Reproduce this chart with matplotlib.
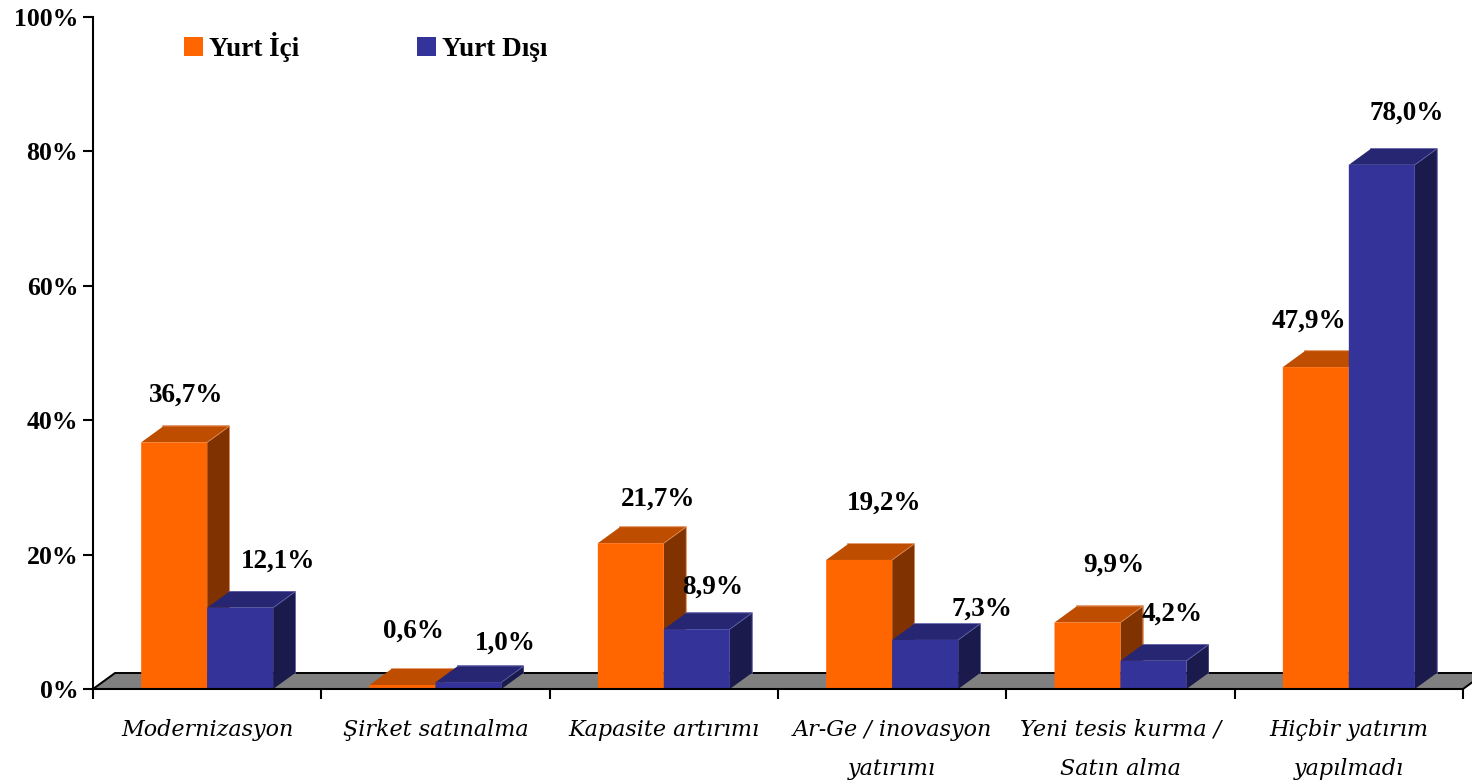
"""Yurt içi / yurt dışı yatırım türleri, pseudo-3D bars on a grey floor."""

import matplotlib

matplotlib.use("Agg")
import matplotlib.pyplot as plt
from matplotlib.patches import Patch

categories = [
    "Modernizasyon",
    "Şirket satınalma",
    "Kapasite artırımı",
    "Ar-Ge / inovasyon\nyatırımı",
    "Yeni tesis kurma /\nSatın alma",
    "Hiçbir yatırım\nyapılmadı",
]
yurt_ici = [36.7, 0.6, 21.7, 19.2, 9.9, 47.9]
yurt_disi = [12.1, 1.0, 8.9, 7.3, 4.2, 78.0]
y_ticks = [0, 20, 40, 60, 80, 100]

# label offsets from the bar's top centre, in pixels (placed by hand in the original)
ici_offsets = [(12, 47), (11, 54), (27, 44), (25, 57), (26, 57), (-7, 46)]
disi_offsets = [(38, 47), (37, 39), (16, 42), (57, 31), (19, 47), (25, 52)]

ORANGE = ("#FF6600", "#BF4D00", "#803300", "#E08A55")  # front, top, side, edge
BLUE = ("#333399", "#262673", "#1A1A4D", "#6060A8")
SERIF = "Liberation Serif"

W, H = 1472, 783
bar_w = 0.289
depth_x = 22 / 228.33  # in category widths
depth_y = 16 / 6.72  # in percent


def draw_bar(ax, x, h, colors, z):
    front, top, side, edge = colors
    # thin highlight along the back edges of the box, covered by the faces after it
    ax.plot([x + depth_x, x + bar_w + depth_x, x + bar_w + depth_x],
            [h + depth_y, h + depth_y, depth_y], color=edge, lw=1.2,
            clip_on=False, zorder=z)
    ax.fill([x, x + bar_w, x + bar_w + depth_x, x + depth_x],
            [h, h, h + depth_y, h + depth_y], color=top, lw=0, clip_on=False, zorder=z)
    ax.fill([x + bar_w, x + bar_w + depth_x, x + bar_w + depth_x, x + bar_w],
            [0, depth_y, h + depth_y, h], color=side, lw=0, clip_on=False, zorder=z)
    ax.plot([x + bar_w, x + bar_w + depth_x], [h, h + depth_y],
            color=edge, lw=0.6, clip_on=False, zorder=z)
    ax.bar(x, h, bar_w, align="edge", color=front, lw=0, snap=False, zorder=z)


def main() -> None:
    fig = plt.figure(figsize=(W / 100, H / 100), dpi=100)
    ax = fig.add_axes([93 / W, 1 - 689 / H, (1463 - 93) / W, (689 - 17) / H])
    ax.set_xlim(-0.5, 5.5)
    ax.set_ylim(0, 100)

    # floor
    ax.fill([-0.5, -0.5 + depth_x, 5.5 + depth_x, 5.5],
            [0, depth_y, depth_y, 0],
            facecolor="#808080", edgecolor="black", lw=1.4, clip_on=False, zorder=0.5)

    for i in range(len(categories)):
        draw_bar(ax, i - bar_w, yurt_ici[i], ORANGE, 1)
        draw_bar(ax, i, yurt_disi[i], BLUE, 1.5)

    for i in range(len(categories)):
        for x, v, off in ((i - bar_w / 2, yurt_ici[i], ici_offsets[i]),
                          (i + bar_w / 2, yurt_disi[i], disi_offsets[i])):
            ax.annotate(f"{v:.1f}%".replace(".", ","), (x, v),
                        xytext=(off[0] * 0.72, off[1] * 0.72),
                        textcoords="offset points", ha="center", va="center",
                        family=SERIF, weight="bold", fontsize=19.5, color="black",
                        annotation_clip=False, zorder=6)

    for side in ("top", "right"):
        ax.spines[side].set_visible(False)
    for side in ("left", "bottom"):
        ax.spines[side].set_linewidth(1.5)

    ax.set_yticks(y_ticks)
    ax.set_yticklabels([f"{t}%" for t in y_ticks], family=SERIF, weight="bold",
                       fontsize=18.5)
    ax.tick_params(axis="y", length=7.2, width=1.5, pad=3.5)

    # group boundaries carry the ticks, centres carry the labels
    ax.set_xticks([i - 0.5 for i in range(len(categories) + 1)])
    ax.set_xticklabels([])
    ax.set_xticks(range(len(categories)), minor=True)
    ax.set_xticklabels(categories, minor=True, family="DejaVu Serif",
                       style="italic", fontsize=16, linespacing=2.0, va="top")
    ax.tick_params(axis="x", which="major", length=7.2, width=1.5)
    ax.tick_params(axis="x", which="minor", length=0, pad=21.5)

    handles = [Patch(color=ORANGE[0], lw=0), Patch(color=BLUE[0], lw=0)]
    ax.legend(handles, ["Yurt İçi", "Yurt Dışı"], ncol=2, frameon=False,
              loc="center left", bbox_to_anchor=(91 / 1370, 1 - 30 / 672),
              borderpad=0, borderaxespad=0, handlelength=0.7, handleheight=0.7,
              handletextpad=0.22, columnspacing=4.35,
              prop={"family": SERIF, "weight": "bold", "size": 19.5})

    fig.savefig("out.png", dpi=100)


if __name__ == "__main__":
    main()
